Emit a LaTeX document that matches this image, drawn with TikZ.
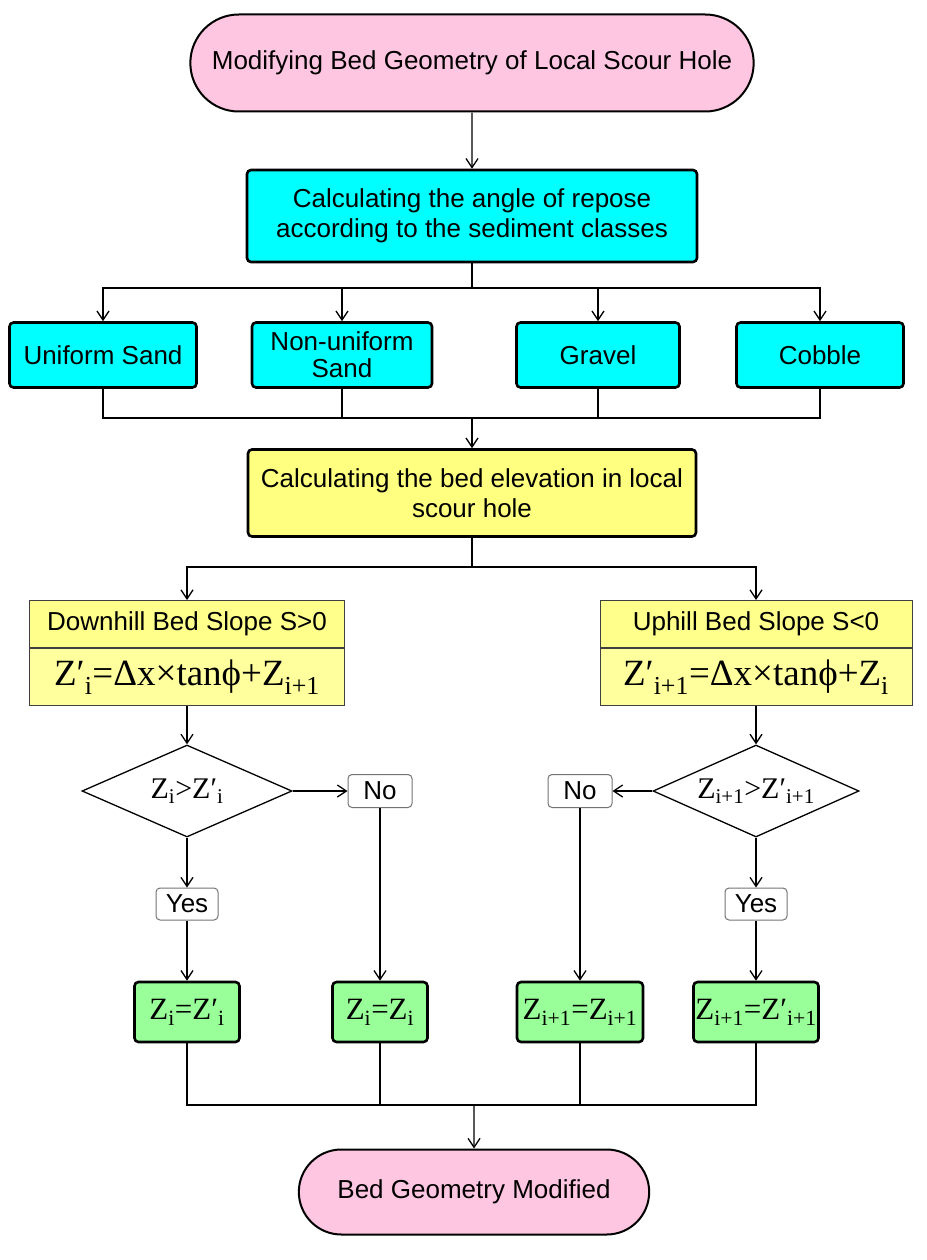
\documentclass[tikz,border=0pt]{standalone}
\usepackage{fontspec}
\setmainfont{Liberation Sans}
\newfontfamily\formulafont{Liberation Serif}
\usetikzlibrary{shapes.geometric,shapes.misc,arrows.meta}

\definecolor{termpink}{RGB}{255,198,226}
\definecolor{boxcyan}{RGB}{0,255,255}
\definecolor{boxyellow}{RGB}{255,255,128}
\definecolor{slopeyellow}{RGB}{255,255,140}
\definecolor{resgreen}{RGB}{153,255,153}

\newcommand{\sansfs}{\fontsize{26}{30}\selectfont}
\newcommand{\formfs}{\formulafont\fontsize{37}{40}\selectfont}
\newcommand{\decfs}{\formulafont\fontsize{30}{34}\selectfont}
\newcommand{\resfs}{\formulafont\fontsize{31}{34}\selectfont}

\tikzset{
  terminal/.style={rounded rectangle, draw, line width=2pt, fill=termpink, font=\sansfs},
  procbox/.style={rectangle, draw, line width=2.6pt, rounded corners=4pt, align=center, inner sep=2pt, font=\sansfs},
  slopehead/.style={rectangle, draw=black!75, line width=1pt, fill=slopeyellow, inner sep=0pt, font=\sansfs},
  slopeform/.style={rectangle, draw=black!75, line width=1pt, fill=slopeyellow!85!white, inner sep=0pt, font=\formfs},
  decision/.style={diamond, draw, line width=1.3pt, inner sep=0pt, aspect=2.3, font=\decfs},
  answer/.style={rectangle, draw=black!55, line width=1pt, rounded corners=4pt, inner sep=0pt, font=\sansfs},
  resbox/.style={rectangle, draw, line width=2.6pt, rounded corners=4pt, fill=resgreen, inner sep=0pt, font=\resfs},
  flowline/.style={line width=1.3pt},
  flowarrow/.style={flowline, -{Straight Barb[length=9pt,width=12pt,line width=1.3pt]}}
}

\begin{document}
\begin{tikzpicture}[x=1pt,y=-1pt]
\useasboundingbox (0,0) rectangle (926,1260);

\node[terminal, minimum width=570, minimum height=97] (start) at (472,63) {Modifying Bed Geometry of Local Scour Hole};
\node[procbox, fill=boxcyan, minimum width=450, minimum height=92] (angle) at (472,216) {Calculating the angle of repose\\according to the sediment classes};

\node[procbox, fill=boxcyan, minimum width=187, minimum height=65] (usand) at (103,355) {Uniform Sand};
\node[procbox, fill=boxcyan, minimum width=180, minimum height=65, font=\fontsize{26}{27}\selectfont] (nsand) at (342,355) {Non-uniform\\Sand};
\node[procbox, fill=boxcyan, minimum width=163, minimum height=65] (gravel) at (598,355) {Gravel};
\node[procbox, fill=boxcyan, minimum width=167, minimum height=65] (cobble) at (820,355) {Cobble};

\node[procbox, fill=boxyellow, minimum width=448, minimum height=87] (elev) at (472,493) {Calculating the bed elevation in local\\scour hole};

\node[slopehead, minimum width=315, minimum height=47] (downhead) at (187,624) {Downhill Bed Slope S>0};
\node[slopeform, minimum width=315, minimum height=57, anchor=north] (downform) at (downhead.south) {Z′\textsubscript{i}=Δx×tanϕ+Z\textsubscript{i+1}};
\node[slopehead, minimum width=312, minimum height=47] (uphead) at (756,624) {Uphill Bed Slope S<0};
\node[slopeform, minimum width=312, minimum height=57, anchor=north] (upform) at (uphead.south) {Z′\textsubscript{i+1}=Δx×tanϕ+Z\textsubscript{i}};

\node[decision, minimum width=210, minimum height=92] (downdec) at (187,791) {Z\textsubscript{i}>Z′\textsubscript{i}};
\node[decision, minimum width=206, minimum height=92] (updec) at (756,791) {Z\textsubscript{i+1}>Z′\textsubscript{i+1}};

\node[answer, minimum width=64, minimum height=33] (downno) at (380,791) {No};
\node[answer, minimum width=64, minimum height=33] (upno) at (580,791) {No};
\node[answer, minimum width=62, minimum height=32] (downyes) at (187,904) {Yes};
\node[answer, minimum width=62, minimum height=32] (upyes) at (756,904) {Yes};

\node[resbox, minimum width=105, minimum height=60] (res1) at (187,1012) {Z\textsubscript{i}=Z′\textsubscript{i}};
\node[resbox, minimum width=95, minimum height=60] (res2) at (380,1012) {Z\textsubscript{i}=Z\textsubscript{i}};
\node[resbox, minimum width=126, minimum height=60] (res3) at (580,1012) {Z\textsubscript{i+1}=Z\textsubscript{i+1}};
\node[resbox, minimum width=125, minimum height=60] (res4) at (756,1012) {Z\textsubscript{i+1}=Z′\textsubscript{i+1}};

\node[terminal, minimum width=357, minimum height=85] (finish) at (474,1192) {Bed Geometry Modified};

\coordinate (fork1) at (472,288);
\coordinate (join1) at (472,418);
\coordinate (fork2) at (472,567);
\coordinate (join2) at (474,1105);

\draw[flowarrow] (start) -- (angle);
\draw[flowline] (angle) -- (fork1);
\foreach \n in {usand,nsand,gravel,cobble}
  \draw[flowarrow] (fork1) -| (\n);
\foreach \n in {usand,nsand,gravel,cobble}
  \draw[flowline] (\n) |- (join1);
\draw[flowarrow] (join1) -- (elev);
\draw[flowline] (elev) -- (fork2);
\draw[flowarrow] (fork2) -| (downhead);
\draw[flowarrow] (fork2) -| (uphead);

\draw[flowarrow] (downform) -- (downdec);
\draw[flowarrow] (downdec) -- (downno);
\draw[flowarrow] (downdec) -- (downyes);
\draw[flowarrow] (downyes) -- (res1);
\draw[flowarrow] (downno) -- (res2);

\draw[flowarrow] (upform) -- (updec);
\draw[flowarrow] (updec) -- (upno);
\draw[flowarrow] (updec) -- (upyes);
\draw[flowarrow] (upyes) -- (res4);
\draw[flowarrow] (upno) -- (res3);

\foreach \n in {res1,res2,res3,res4}
  \draw[flowline] (\n) |- (join2);
\draw[flowarrow] (join2) -- (finish);
\end{tikzpicture}
\end{document}
